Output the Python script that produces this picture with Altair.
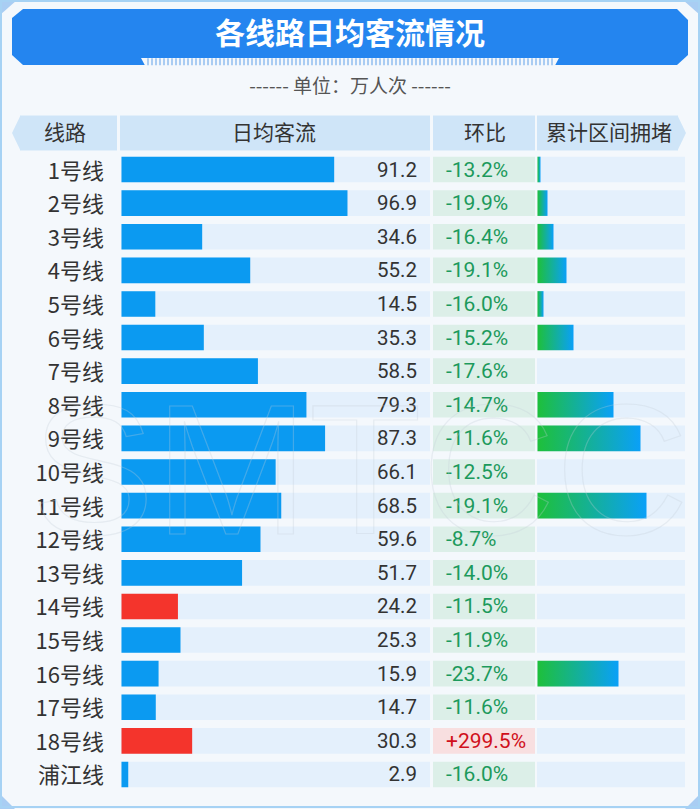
import altair as alt
import pandas as pd

# ---------------- data ----------------
lines = ["1号线", "2号线", "3号线", "4号线", "5号线", "6号线", "7号线", "8号线", "9号线",
         "10号线", "11号线", "12号线", "13号线", "14号线", "15号线", "16号线", "17号线",
         "18号线", "浦江线"]
flow = [91.2, 96.9, 34.6, 55.2, 14.5, 35.3, 58.5, 79.3, 87.3, 66.1, 68.5, 59.6, 51.7,
        24.2, 25.3, 15.9, 14.7, 30.3, 2.9]
change_pct = [-13.2, -19.9, -16.4, -19.1, -16.0, -15.2, -17.6, -14.7, -11.6, -12.5, -19.1,
              -8.7, -14.0, -11.5, -11.9, -23.7, -11.6, 299.5, -16.0]
congestion = [3, 10, 16, 29, 6, 36, 0, 76, 103, 0, 109, 0, 0, 0, 0, 81, 0, 0, 0]
highlight_lines = ["14号线", "18号线"]
headers = ["线路", "日均客流", "环比", "累计区间拥堵"]
title = "各线路日均客流情况"
subtitle = "------ 单位：万人次 ------"
watermark = "SMTCC"

# ---------------- layout / style ----------------
PAGE_BG = "#f4f8fc"
BANNER = "#2485ef"
HEADER_BG = "#cfe5f8"
ROW_BG = "#e4f0fc"
BAR_BLUE = "#0b9af1"
BAR_RED = "#f4342c"
NEG_BG = "#dcefe8"
POS_BG = "#f8dfe0"
NEG_TXT = "#1c9a5c"
POS_TXT = "#d0101c"
TXT = "#333333"
CORNER = "#a9cdf3"
CJK = "Noto Sans CJK SC"
NUM = "Roboto"

Y_RANGE = [152.7, 791.3]
HEAD_X1 = [20, 120, 433, 537]
HEAD_X2 = [117, 430, 535, 678]
HEAD_TX = [65, 274, 485, 609]

df = pd.DataFrame({"line": lines, "flow": flow, "change": change_pct, "cong": congestion})
df["flow_label"] = df["flow"].map(lambda v: f"{v:.1f}")
df["change_label"] = df["change"].map(lambda v: f"{v:+.1f}%")
df["hl"] = df["line"].isin(highlight_lines)
df["pos"] = df["change"] > 0

y_band = alt.Y("line:N", axis=None,
               scale=alt.Scale(type="band", domain=lines, range=Y_RANGE,
                               paddingInner=0.238, paddingOuter=0.119))
y_point = alt.Y("line:N", axis=None,
                scale=alt.Scale(type="point", domain=lines, range=Y_RANGE, padding=0.5))

base = alt.Chart(df)

# ---------------- decorative polygons ----------------
def polygon(color, pts):
    pdf = pd.DataFrame(pts, columns=["x", "y", "y2"])
    return alt.Chart(pdf).mark_area(interpolate="linear", color=color).encode(
        x=alt.X("x:Q", scale=None),
        y=alt.Y("y:Q", scale=None, stack=None),
        y2="y2:Q",
    )

banner = polygon(BANNER, [(12, 18, 55), (23, 9, 65), (677, 9, 65), (688, 20, 55)])
notch = polygon(PAGE_BG, [(141, 58, 58), (145, 58, 65.5), (555, 58, 65.5), (559, 58, 58)])
arrow_l = polygon(HEADER_BG, [(12, 133, 133), (20.5, 115.5, 150.5)])
arrow_r = polygon(HEADER_BG, [(677.5, 115.5, 150.5), (686, 133, 133)])
c_tl = polygon(CORNER, [(0, 0, 15), (17, 0, 0)])
c_tr = polygon(CORNER, [(683, 0, 0), (700, 0, 15)])
c_bl = polygon(CORNER, [(0, 794, 809), (15, 809, 809)])
c_br = polygon(CORNER, [(685, 809, 809), (700, 794, 809)])

one = alt.Chart(pd.DataFrame({"t": [title], "s": [subtitle], "w": [watermark]}))

frame = one.mark_rect(fillOpacity=0, stroke="#a6d2f4", strokeWidth=2).encode(
    x=alt.value(1), x2=alt.value(699), y=alt.value(1), y2=alt.value(807))

hatch = one.mark_rule(color="#a9ccf2", strokeWidth=7, strokeDash=[2, 2]).encode(
    x=alt.value(147), x2=alt.value(553), y=alt.value(61.8))

title_t = one.mark_text(font=CJK, fontSize=30, fontWeight="bold", color="white",
                        align="center", baseline="middle").encode(
    text="t:N", x=alt.value(350), y=alt.value(35))

sub_t = one.mark_text(font=CJK, fontSize=19, color="#555555",
                      align="center", baseline="middle").encode(
    text="s:N", x=alt.value(350), y=alt.value(87))

# ---------------- header ----------------
hdf = pd.DataFrame({"h": headers, "x1": HEAD_X1, "x2": HEAD_X2, "tx": HEAD_TX})
head_cells = alt.Chart(hdf).mark_rect(color=HEADER_BG).encode(
    x=alt.X("x1:Q", scale=None), x2="x2:Q", y=alt.value(115.5), y2=alt.value(150.5))
head_text = alt.Chart(hdf).mark_text(font=CJK, fontSize=21, color=TXT,
                                     align="center", baseline="middle").encode(
    text="h:N", x=alt.X("tx:Q", scale=None), y=alt.value(134))

# ---------------- rows ----------------
bg_flow = base.mark_bar(color=ROW_BG).encode(y=y_band, x=alt.value(121), x2=alt.value(430))
bg_change = base.mark_bar().encode(
    y=y_band, x=alt.value(433), x2=alt.value(535),
    color=alt.condition("datum.pos", alt.value(POS_BG), alt.value(NEG_BG)))
bg_cong = base.mark_bar(color=ROW_BG).encode(y=y_band, x=alt.value(537), x2=alt.value(685))

bars = base.mark_bar().encode(
    y=y_band,
    x=alt.X("flow:Q", axis=None, scale=alt.Scale(domain=[0, 131], range=[121.5, 427], nice=False)),
    color=alt.condition("datum.hl", alt.value(BAR_RED), alt.value(BAR_BLUE)),
)

grad = alt.LinearGradient(
    gradient="linear",
    stops=[alt.GradientStop(color="#1ec03a", offset=0), alt.GradientStop(color="#0aa0f8", offset=1)],
    x1=0, x2=1, y1=0, y2=0)
cong_bars = base.transform_filter("datum.cong > 0").mark_bar(color=grad).encode(
    y=y_band,
    x=alt.X("cong:Q", axis=None, scale=alt.Scale(domain=[0, 148], range=[537.5, 685.5], nice=False)),
)

line_t = base.mark_text(font=CJK, fontSize=22, color=TXT, align="right",
                        baseline="middle", dy=2).encode(
    y=y_point, x=alt.value(104), text="line:N")
flow_t = base.mark_text(font=NUM, fontSize=20.5, color=TXT, align="right",
                        baseline="middle", dy=1).encode(
    y=y_point, x=alt.value(417), text="flow_label:N")
chg_t = base.mark_text(font=NUM, fontSize=21, align="left", baseline="middle", dy=1).encode(
    y=y_point, x=alt.value(446), text="change_label:N",
    color=alt.condition("datum.pos", alt.value(POS_TXT), alt.value(NEG_TXT)))

wm = one.mark_text(font="Liberation Sans", fontSize=185, fillOpacity=0, stroke="#c4ced8",
                   strokeWidth=1.2, strokeOpacity=0.3, align="center",
                   baseline="alphabetic").encode(
    text="w:N", x=alt.value(360), y=alt.value(534))

chart = alt.layer(
    c_tl, c_tr, c_bl, c_br, banner, notch, hatch, frame, title_t, sub_t,
    head_cells, arrow_l, arrow_r, head_text,
    bg_flow, bg_change, bg_cong, bars, cong_bars, line_t, flow_t, chg_t, wm,
).resolve_scale(
    x="independent", y="independent", color="independent"
).properties(
    width=700, height=809,
    autosize=alt.AutoSizeParams(type="none"),
    padding=0,
    background=PAGE_BG,
).configure_view(stroke=None)

chart.save("out.html", embed_options={"renderer": "svg", "actions": False})
